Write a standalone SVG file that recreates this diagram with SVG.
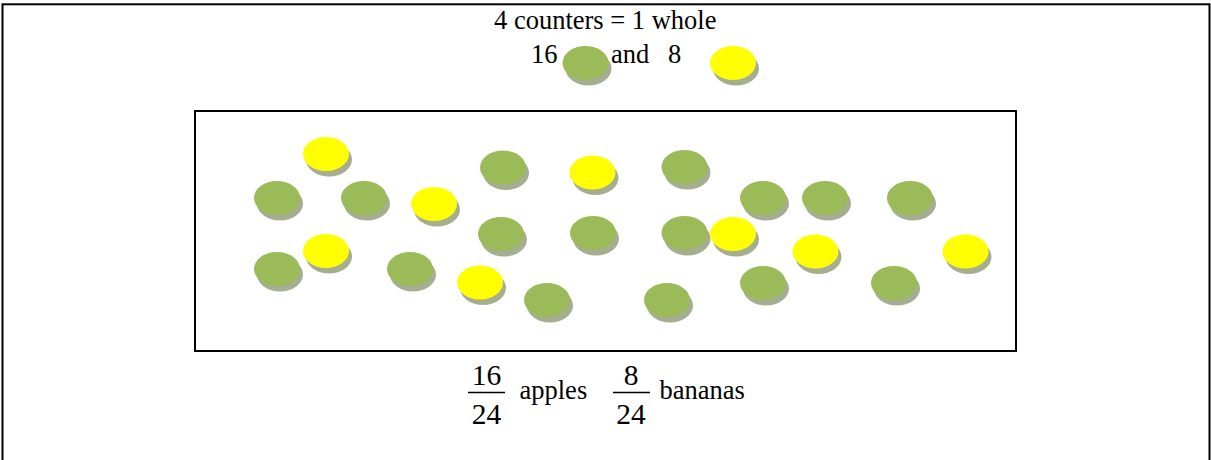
<svg xmlns="http://www.w3.org/2000/svg" xmlns:xlink="http://www.w3.org/1999/xlink" width="1211" height="460" viewBox="0 0 1211 460">
<style>
text{font-family:'Liberation Serif','Times New Roman',serif;fill:#000}
.t{font-size:26.5px}
.f{font-size:29.5px;text-anchor:middle}
.frame{fill:none;stroke:#000;stroke-width:2}
.sh{fill:#a5ae90}
.g{fill:#9bbb59}
.y{fill:#ffff00}
</style>
<defs>
<g id="green"><ellipse class="sh" cx="3" cy="5.5" rx="23" ry="17"/><ellipse class="g" cx="0" cy="0" rx="23" ry="17"/></g>
<g id="yellow"><ellipse class="sh" cx="3" cy="5.5" rx="23" ry="17"/><ellipse class="y" cx="0" cy="0" rx="23" ry="17"/></g>
</defs>
<rect width="1211" height="460" fill="#fff"/>
<rect class="frame" x="2.5" y="4.3" width="1207" height="460"/>
<g id="header">
<text class="t" x="494" y="29">4 counters = 1 whole</text>
<text class="t" x="531" y="63">16</text>
<use xlink:href="#green" x="585.5" y="63"/>
<text class="t" x="611" y="63">and</text>
<text class="t" x="668" y="63">8</text>
<use xlink:href="#yellow" x="733" y="63"/>
</g>
<g id="box">
<rect class="frame" x="195" y="111" width="821" height="240"/>
</g>
<g id="greens">
<use xlink:href="#green" x="277" y="198"/>
<use xlink:href="#green" x="364" y="198"/>
<use xlink:href="#green" x="277" y="269"/>
<use xlink:href="#green" x="410" y="269"/>
<use xlink:href="#green" x="503" y="167.5"/>
<use xlink:href="#green" x="501" y="234"/>
<use xlink:href="#green" x="593" y="233"/>
<use xlink:href="#green" x="547" y="300"/>
<use xlink:href="#green" x="684.5" y="167"/>
<use xlink:href="#green" x="684.5" y="233"/>
<use xlink:href="#green" x="763" y="198"/>
<use xlink:href="#green" x="825" y="198"/>
<use xlink:href="#green" x="910" y="198"/>
<use xlink:href="#green" x="763" y="283"/>
<use xlink:href="#green" x="894" y="283"/>
<use xlink:href="#green" x="667" y="300"/>
</g>
<g id="yellows">
<use xlink:href="#yellow" x="326" y="154"/>
<use xlink:href="#yellow" x="434" y="204"/>
<use xlink:href="#yellow" x="326" y="251"/>
<use xlink:href="#yellow" x="480" y="282.5"/>
<use xlink:href="#yellow" x="592.5" y="172.5"/>
<use xlink:href="#yellow" x="733" y="234"/>
<use xlink:href="#yellow" x="815.5" y="251.5"/>
<use xlink:href="#yellow" x="965.5" y="251.5"/>
</g>
<g id="fraction-apples">
<text class="f" x="486.5" y="385">16</text>
<line x1="468" y1="392.5" x2="505" y2="392.5" stroke="#000" stroke-width="1.5"/>
<text class="f" x="486.5" y="424">24</text>
<text class="t" x="519.5" y="399">apples</text>
</g>
<g id="fraction-bananas">
<text class="f" x="631" y="385">8</text>
<line x1="613" y1="392.5" x2="650" y2="392.5" stroke="#000" stroke-width="1.5"/>
<text class="f" x="631" y="424">24</text>
<text class="t" x="659.5" y="399">bananas</text>
</g>
</svg>
